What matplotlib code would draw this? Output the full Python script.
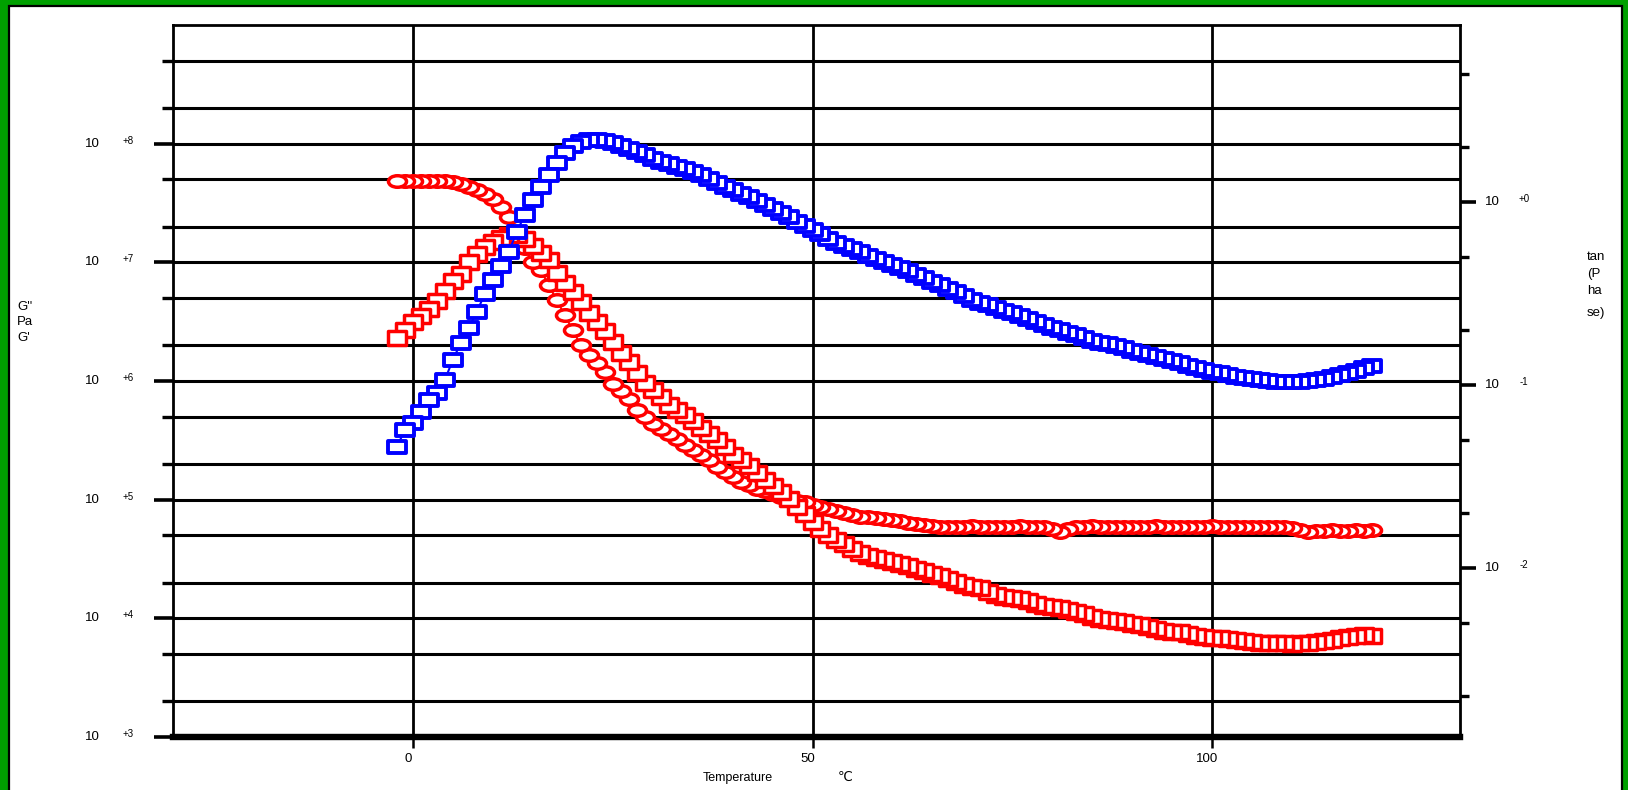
import numpy as np
import matplotlib
matplotlib.use("Agg")
import matplotlib.pyplot as plt
from matplotlib.path import Path
from matplotlib.patches import Rectangle
from matplotlib.ticker import LogLocator, NullFormatter, FixedLocator
import matplotlib.transforms as mtransforms

# ---------------- data ----------------
temperature = [
    -2, -1, 0, 1, 2, 3, 4, 5, 6, 7,
    8, 9, 10, 11, 12, 13, 14, 15, 16, 17,
    18, 19, 20, 21, 22, 23, 24, 25, 26, 27,
    28, 29, 30, 31, 32, 33, 34, 35, 36, 37,
    38, 39, 40, 41, 42, 43, 44, 45, 46, 47,
    48, 49, 50, 51, 52, 53, 54, 55, 56, 57,
    58, 59, 60, 61, 62, 63, 64, 65, 66, 67,
    68, 69, 70, 71, 72, 73, 74, 75, 76, 77,
    78, 79, 80, 81, 82, 83, 84, 85, 86, 87,
    88, 89, 90, 91, 92, 93, 94, 95, 96, 97,
    98, 99, 100, 101, 102, 103, 104, 105, 106, 107,
    108, 109, 110, 111, 112, 113, 114, 115, 116, 117,
    118, 119, 120,
]

# G' (Pa) - red circles
g_storage = [
    4.84e7, 4.84e7, 4.84e7, 4.84e7, 4.84e7, 4.84e7, 4.84e7, 4.75e7, 4.57e7, 4.31e7,
    4.07e7, 3.76e7, 3.42e7, 2.93e7, 2.41e7, 1.80e7, 1.32e7, 1.01e7, 8.6e6, 6.44e6,
    4.81e6, 3.60e6, 2.69e6, 2.01e6, 1.66e6, 1.42e6, 1.19e6, 9.44e5, 8.24e5, 7.05e5,
    5.70e5, 4.97e5, 4.34e5, 3.94e5, 3.57e5, 3.24e5, 2.89e5, 2.62e5, 2.38e5, 2.16e5,
    1.88e5, 1.71e5, 1.55e5, 1.41e5, 1.33e5, 1.23e5, 1.18e5, 1.12e5, 1.05e5, 1.01e5,
    9.75e4, 9.55e4, 9.02e4, 8.67e4, 8.34e4, 8.02e4, 7.72e4, 7.43e4, 7.14e4, 7.14e4,
    7.00e4, 6.87e4, 6.74e4, 6.61e4, 6.35e4, 6.24e4, 6.11e4, 6.00e4, 5.89e4, 5.89e4,
    5.89e4, 5.89e4, 5.95e4, 5.89e4, 5.89e4, 5.83e4, 5.89e4, 5.89e4, 5.95e4, 5.89e4,
    5.89e4, 5.83e4, 5.66e4, 5.34e4, 5.66e4, 5.89e4, 5.89e4, 5.95e4, 5.89e4, 5.89e4,
    5.89e4, 5.83e4, 5.89e4, 5.89e4, 5.89e4, 5.95e4, 5.89e4, 5.89e4, 5.83e4, 5.89e4,
    5.89e4, 5.89e4, 5.95e4, 5.89e4, 5.89e4, 5.89e4, 5.83e4, 5.89e4, 5.89e4, 5.89e4,
    5.89e4, 5.83e4, 5.78e4, 5.55e4, 5.34e4, 5.45e4, 5.45e4, 5.50e4, 5.45e4, 5.45e4,
    5.50e4, 5.45e4, 5.50e4,
]

# G'' (Pa) - red squares
g_loss = [
    2.30e6, 2.69e6, 3.14e6, 3.53e6, 4.05e6, 4.72e6, 5.73e6, 6.96e6, 7.98e6, 1.01e7,
    1.18e7, 1.35e7, 1.48e7, 1.60e7, 1.70e7, 1.70e7, 1.57e7, 1.37e7, 1.20e7, 1.05e7,
    8.13e6, 6.70e6, 5.62e6, 4.63e6, 3.74e6, 3.14e6, 2.64e6, 2.13e6, 1.72e6, 1.45e6,
    1.17e6, 9.62e5, 8.39e5, 7.33e5, 6.28e5, 5.70e5, 5.17e5, 4.60e5, 4.02e5, 3.57e5,
    3.18e5, 2.78e5, 2.38e5, 2.16e5, 1.92e5, 1.68e5, 1.47e5, 1.30e5, 1.16e5, 1.01e5,
    8.67e4, 7.57e4, 6.48e4, 5.66e4, 5.04e4, 4.57e4, 4.23e4, 3.84e4, 3.55e4, 3.35e4,
    3.22e4, 3.10e4, 2.99e4, 2.87e4, 2.76e4, 2.61e4, 2.51e4, 2.36e4, 2.27e4, 2.14e4,
    2.02e4, 1.91e4, 1.84e4, 1.80e4, 1.67e4, 1.57e4, 1.51e4, 1.48e4, 1.46e4, 1.40e4,
    1.32e4, 1.27e4, 1.25e4, 1.22e4, 1.18e4, 1.13e4, 1.09e4, 1.03e4, 9.87e3, 9.68e3,
    9.49e3, 9.31e3, 8.96e3, 8.79e3, 8.45e3, 8.13e3, 7.82e3, 7.67e3, 7.67e3, 7.38e3,
    7.10e3, 6.96e3, 6.83e3, 6.83e3, 6.70e3, 6.56e3, 6.44e3, 6.32e3, 6.19e3, 6.19e3,
    6.19e3, 6.19e3, 6.08e3, 6.19e3, 6.19e3, 6.32e3, 6.44e3, 6.56e3, 6.83e3, 6.96e3,
    7.10e3, 7.25e3, 7.10e3,
]

# tan(Phase) - blue squares
tan_delta = [
    0.0458, 0.0568, 0.0620, 0.0712, 0.0828, 0.0904, 0.1065, 0.137, 0.170, 0.205,
    0.251, 0.314, 0.375, 0.447, 0.533, 0.686, 0.849, 1.03, 1.21, 1.41,
    1.63, 1.85, 2.02, 2.13, 2.18, 2.18, 2.15, 2.10, 2.02, 1.95,
    1.88, 1.81, 1.72, 1.65, 1.61, 1.55, 1.51, 1.46, 1.41, 1.34,
    1.27, 1.21, 1.16, 1.11, 1.065, 1.013, 0.963, 0.916, 0.871, 0.828,
    0.778, 0.739, 0.703, 0.668, 0.628, 0.597, 0.575, 0.554, 0.533, 0.507,
    0.488, 0.470, 0.453, 0.436, 0.420, 0.399, 0.384, 0.366, 0.352, 0.335,
    0.322, 0.306, 0.291, 0.281, 0.274, 0.264, 0.254, 0.247, 0.238, 0.230,
    0.221, 0.213, 0.205, 0.200, 0.192, 0.188, 0.181, 0.174, 0.170, 0.168,
    0.163, 0.159, 0.153, 0.150, 0.146, 0.142, 0.139, 0.135, 0.132, 0.127,
    0.124, 0.121, 0.118, 0.116, 0.1135, 0.1106, 0.1092, 0.1078, 0.1065, 0.1051,
    0.1038, 0.1038, 0.1038, 0.1038, 0.1051, 0.1065, 0.1078, 0.1106, 0.1135, 0.116,
    0.1193, 0.124, 0.127,
]

x_ticks = [0, 50, 100]
x_tick_labels = ["0", "50", "100"]
left_decades = [3, 4, 5, 6, 7, 8]
left_exponents = ["+3", "+4", "+5", "+6", "+7", "+8"]
right_decades = [0, -1, -2]
right_exponents = ["+0", "-1", "-2"]

# ---------------- figure ----------------
W, H = 1628, 790
FONT = ["Liberation Sans", "DejaVu Sans"]
plt.rcParams["font.family"] = FONT

fig = plt.figure(figsize=(W / 100, H / 100), dpi=100)
fig.patch.set_facecolor("#00a000")
fig.add_artist(Rectangle((9 / W, -0.05), (1622 - 9) / W, (1 - 6 / H) + 0.05,
                         transform=fig.transFigure, facecolor="white",
                         edgecolor="black", lw=1.6, zorder=0))


def fx(px):
    return px / W


def fy(py):
    return 1 - py / H


ax = fig.add_axes([fx(173), fy(737), (1460 - 173) / W, (737 - 25) / H])
ax.set_facecolor("white")
ax.set_xlim(-30, 131)
ax.set_yscale("log")
ax.set_ylim(1e3, 1e9)
ax.yaxis.set_major_locator(FixedLocator([10.0 ** n for n in left_decades]))
ax.yaxis.set_minor_locator(LogLocator(base=10, subs=[2.0, 5.0], numticks=20))
ax.yaxis.set_major_formatter(NullFormatter())
ax.yaxis.set_minor_formatter(NullFormatter())
ax.xaxis.set_major_locator(FixedLocator(x_ticks))
ax.xaxis.set_major_formatter(NullFormatter())
ax.set_axisbelow(True)
ax.grid(True, which="both", axis="y", color="black", lw=2.2)
ax.grid(True, which="major", axis="x", color="black", lw=2.0)
ax.tick_params(axis="y", which="major", direction="out", length=13.5, width=2.6,
               left=True, right=False, color="black")
ax.tick_params(axis="y", which="minor", direction="out", length=8, width=2.4,
               left=True, right=False)
ax.tick_params(axis="x", which="major", direction="out", length=8, width=1.8,
               bottom=True, top=False)
ax.tick_params(axis="x", which="minor", bottom=False, top=False)
for side in ["left", "top", "right"]:
    ax.spines[side].set_linewidth(2.0)
    ax.spines[side].set_color("black")
ax.spines["bottom"].set_linewidth(4.6)

ax2 = ax.twinx()
ax2.set_yscale("log")
ax2.set_ylim(10 ** -2.923, 10 ** 0.967)
ax2.yaxis.set_major_locator(FixedLocator([10.0 ** n for n in right_decades]))
ax2.yaxis.set_minor_locator(LogLocator(base=10, subs=[2.0, 5.0], numticks=20))
ax2.yaxis.set_major_formatter(NullFormatter())
ax2.yaxis.set_minor_formatter(NullFormatter())
ax2.tick_params(axis="y", which="major", direction="out", length=11.5, width=2.6,
                right=True, left=False)
ax2.tick_params(axis="y", which="minor", direction="out", length=6.5, width=2.4,
                right=True, left=False)
for side in ax2.spines:
    ax2.spines[side].set_visible(False)

# ---------------- markers ----------------
def rect_path(ratio):
    return Path([(-1, -ratio), (1, -ratio), (1, ratio), (-1, ratio), (-1, -ratio)],
                [Path.MOVETO, Path.LINETO, Path.LINETO, Path.LINETO, Path.CLOSEPOLY])


rect_red = rect_path(0.76)
rect_blue = rect_path(0.66)
uc = Path.unit_circle()
ellipse = Path(uc.vertices * np.array([1.0, 0.64]), uc.codes)

t = np.array(temperature)[::-1]
ax.plot(t, np.array(g_storage)[::-1], color="#ff0000", lw=1.5, marker=ellipse,
        ms=13.0, mfc="white", mec="#ff0000", mew=2.5, zorder=3)
ax.plot(t, np.array(g_loss)[::-1], color="#ff0000", lw=1.5, marker=rect_red,
        ms=13.0, mfc="white", mec="#ff0000", mew=2.5, zorder=4)
ax2.plot(t, np.array(tan_delta)[::-1], color="#0000ff", lw=1.5, marker=rect_blue,
         ms=13.5, mfc="white", mec="#0000ff", mew=2.8, zorder=5)

# ---------------- tick labels ----------------
tl = mtransforms.blended_transform_factory(ax.transAxes, ax.transData)
tl_up = mtransforms.offset_copy(tl, fig=fig, x=0, y=3, units="dots")
for n, e in zip(left_decades, left_exponents):
    ax.text((92 - 173) / 1287, 10.0 ** n, "10", transform=tl, ha="center",
            va="center", fontsize=9.5)
    ax.text((128 - 173) / 1287, 10.0 ** n, e, transform=tl_up, ha="center",
            va="center", fontsize=7)

tr = mtransforms.blended_transform_factory(ax2.transAxes, ax2.transData)
tr_up = mtransforms.offset_copy(tr, fig=fig, x=0, y=3, units="dots")
for n, e in zip(right_decades, right_exponents):
    ax2.text((1492 - 173) / 1287, 10.0 ** n, "10", transform=tr, ha="center",
             va="center", fontsize=9.5)
    ax2.text((1524 - 173) / 1287, 10.0 ** n, e, transform=tr_up, ha="center",
             va="center", fontsize=7)

tx = mtransforms.blended_transform_factory(ax.transData, ax.transAxes)
tx_off = mtransforms.offset_copy(tx, fig=fig, x=-5, y=0, units="dots")
for v, s in zip(x_ticks, x_tick_labels):
    ax.text(v, (737 - 759) / 712, s, transform=tx_off, ha="center", va="center",
            fontsize=9.5)

# ---------------- axis titles ----------------
fig.text(fx(738), fy(778), "Temperature", ha="center", va="center", fontsize=9)
fig.text(fx(845), fy(778), "℃", ha="center", va="center", fontsize=9.5)

fig.text(fx(17), fy(307), "G''", ha="left", va="center", fontsize=9.5)
fig.text(fx(17), fy(322), "Pa", ha="left", va="center", fontsize=9.5)
fig.text(fx(17), fy(338), "G'", ha="left", va="center", fontsize=9.5)

fig.text(fx(1587), fy(257), "tan", ha="left", va="center", fontsize=9.5)
fig.text(fx(1587), fy(274), "(P", ha="left", va="center", fontsize=9.5)
fig.text(fx(1587), fy(291), "ha", ha="left", va="center", fontsize=9.5)
fig.text(fx(1587), fy(313), "se)", ha="left", va="center", fontsize=9.5)

fig.savefig("out.png", dpi=100, facecolor=fig.get_facecolor())
